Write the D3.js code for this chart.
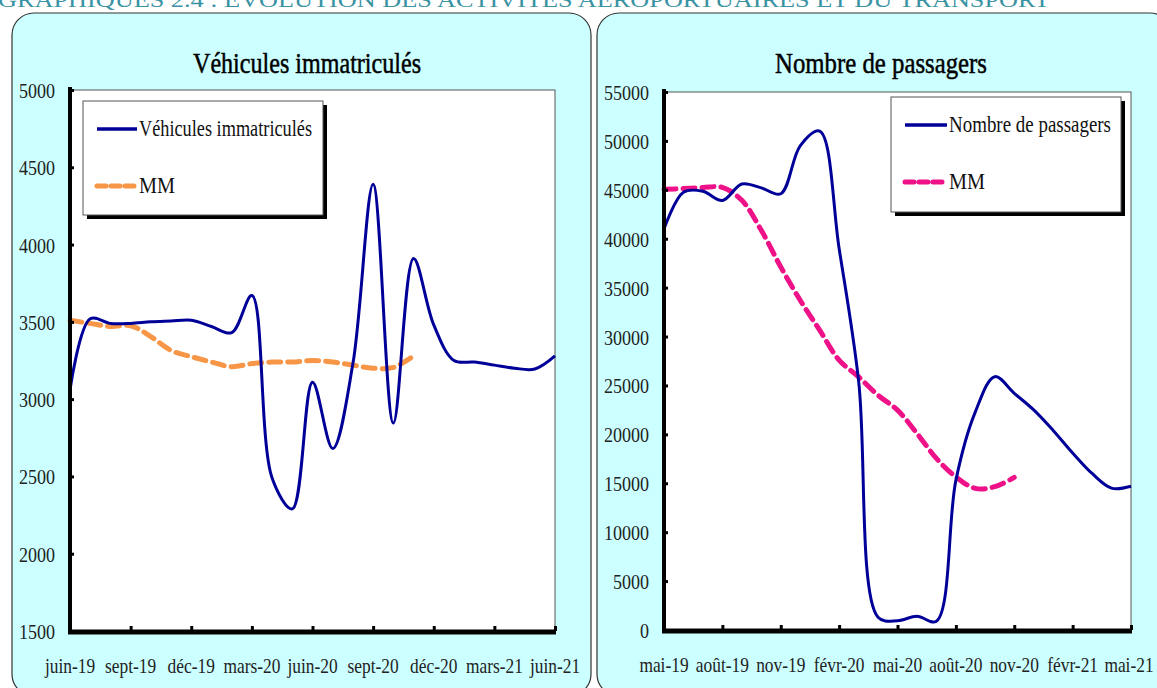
<!DOCTYPE html>
<html><head><meta charset="utf-8">
<script src="https://cdn.jsdelivr.net/npm/d3@7"></script>
<style>
html,body{margin:0;padding:0;background:#fff;overflow:hidden;}
svg{display:block;}
text{font-family:"Liberation Serif","DejaVu Serif",serif;}
</style></head>
<body>
<svg id="chart" width="1157" height="688"></svg>
<script>
// ---------- DATA ----------
const monthsLeft = ["juin-19","juil-19","août-19","sept-19","oct-19","nov-19","déc-19","janv-20","févr-20","mars-20","avr-20","mai-20","juin-20","juil-20","août-20","sept-20","oct-20","nov-20","déc-20","janv-21","févr-21","mars-21","avr-21","mai-21","juin-21"];
const vehicules = [3060,3520,3490,3490,3500,3505,3510,3470,3430,3670,2490,2290,3110,2680,3230,4390,2845,3910,3480,3250,3240,3220,3200,3195,3280];
const vehiculesMM = [3510,3490,3470,3475,3405,3315,3275,3240,3210,3230,3240,3240,3250,3240,3220,3200,3205,3280];
const yTicksLeft = [1500,2000,2500,3000,3500,4000,4500,5000];
const xTicksLeft = ["juin-19","sept-19","déc-19","mars-20","juin-20","sept-20","déc-20","mars-21","juin-21"];

const monthsRight = ["mai-19","juin-19","juil-19","août-19","sept-19","oct-19","nov-19","déc-19","janv-20","févr-20","mars-20","avr-20","mai-20","juin-20","juil-20","août-20","sept-20","oct-20","nov-20","déc-20","janv-21","févr-21","mars-21","avr-21","mai-21"];
const passagers = [41000,44750,44850,43900,45600,45200,44600,49500,51000,39000,25500,1300,950,1400,900,15300,22300,25900,24200,22500,20400,18100,16000,14500,14700];
const passagersMM = [45050,45130,45230,45250,43930,40860,37120,33710,30650,27590,25880,24000,22480,20100,17540,15660,14480,14650,15600];
const yTicksRight = [0,5000,10000,15000,20000,25000,30000,35000,40000,45000,50000,55000];
const xTicksRight = ["mai-19","août-19","nov-19","févr-20","mai-20","août-20","nov-20","févr-21","mai-21"];

const headerText = "GRAPHIQUES 2.4 : ÉVOLUTION DES ACTIVITÉS AÉROPORTUAIRES ET DU TRANSPORT";

// ---------- DRAW ----------
const svg = d3.select("#chart");

svg.append("text").attr("x",-2).attr("y",7)
  .attr("textLength",1052).attr("lengthAdjust","spacingAndGlyphs")
  .style("font-size","21px").style("fill","#3a93a3").style("font-variant","small-caps")
  .text(headerText);

function panel(cfg){
  const g = svg.append("g");
  g.append("rect").attr("x",cfg.px).attr("y",13).attr("width",cfg.pw).attr("height",683)
    .attr("rx",22).attr("ry",22).attr("fill","#ccffff").attr("stroke","#333").attr("stroke-width",1.2);

  g.append("text").attr("x",cfg.titleX).attr("y",73).attr("text-anchor","middle")
    .attr("textLength",cfg.titleW).attr("lengthAdjust","spacingAndGlyphs")
    .style("font-size","30px").style("fill","#000").style("stroke","#000").style("stroke-width",0.5)
    .text(cfg.title);

  const x = d3.scalePoint().domain(cfg.months).range([cfg.x0,cfg.x1]);
  const y = d3.scaleLinear().domain([cfg.yTicks[0],cfg.yTicks[cfg.yTicks.length-1]]).range([cfg.y1,cfg.y0]);

  g.append("rect").attr("x",cfg.x0).attr("y",cfg.y0).attr("width",cfg.x1-cfg.x0).attr("height",cfg.y1-cfg.y0)
    .attr("fill","#fff").attr("stroke","#555").attr("stroke-width",1);

  // legend
  const L = cfg.legend;
  g.append("rect").attr("x",L.x+4).attr("y",L.y+4).attr("width",L.w).attr("height",L.h).attr("fill","#000");
  g.append("rect").attr("x",L.x).attr("y",L.y).attr("width",L.w).attr("height",L.h).attr("fill","#fff").attr("stroke","#555").attr("stroke-width",1);
  g.append("line").attr("x1",L.lx0).attr("x2",L.lx1).attr("y1",L.r1).attr("y2",L.r1).attr("stroke","#000099").attr("stroke-width",3.5);
  g.append("line").attr("x1",L.lx0).attr("x2",L.lx1).attr("y1",L.r2).attr("y2",L.r2).attr("stroke",cfg.mmColor).attr("stroke-width",5)
    .attr("stroke-dasharray","9,5").attr("stroke-linecap","round");
  g.append("text").attr("x",L.lx1+2).attr("y",L.r1+7).attr("textLength",L.tw).attr("lengthAdjust","spacingAndGlyphs")
    .style("font-size","23px").style("fill","#111").text(cfg.title);
  g.append("text").attr("x",L.lx1+2).attr("y",L.r2+7).attr("textLength",36).attr("lengthAdjust","spacingAndGlyphs")
    .style("font-size","23px").style("fill","#111").text("MM");

  // lines
  const line = d3.line().x((d,i)=>x(cfg.months[i])).y(d=>y(d)).curve(d3.curveCatmullRom.alpha(0.5));
  g.append("path").datum(cfg.mm).attr("d",line).attr("fill","none").attr("stroke",cfg.mmColor)
    .attr("stroke-width",5).attr("stroke-dasharray","12,7").attr("stroke-linecap","round");
  g.append("path").datum(cfg.series).attr("d",line).attr("fill","none").attr("stroke","#000099").attr("stroke-width",3);

  // axes
  const yAxis = d3.axisRight(y).tickValues(cfg.yTicks).tickSize(4).tickFormat("");
  const ya = g.append("g").attr("transform",`translate(${cfg.x0},0)`).call(yAxis);
  ya.select(".domain").remove();
  ya.selectAll(".tick line").attr("stroke","#000").attr("stroke-width",3);
  g.selectAll(".ylab").data(cfg.yTicks).enter().append("text")
    .attr("transform",d=>`translate(${cfg.x0-15},${y(d)+8}) scale(0.82,1)`).attr("text-anchor","end")
    .style("font-size","22px").style("fill","#222").text(d=>d);

  const xAxis = d3.axisTop(x).tickValues(cfg.xTicks).tickSize(5).tickFormat("");
  const xa = g.append("g").attr("transform",`translate(0,${cfg.y1})`).call(xAxis);
  xa.select(".domain").remove();
  xa.selectAll(".tick line").attr("stroke","#000").attr("stroke-width",3);
  g.selectAll(".xlab").data(cfg.xTicks).enter().append("text")
    .attr("transform",d=>`translate(${Math.min(x(d),cfg.xMaxLab)},${cfg.y1+42}) scale(0.79,1)`).attr("text-anchor","middle")
    .style("font-size","22px").style("fill","#222").text(d=>d);

  g.append("line").attr("x1",cfg.x0).attr("x2",cfg.x0).attr("y1",cfg.y0-3).attr("y2",cfg.y1+2).attr("stroke","#000").attr("stroke-width",4);
  g.append("line").attr("x1",cfg.x0-2).attr("x2",cfg.x1+1).attr("y1",cfg.y1+1).attr("y2",cfg.y1+1).attr("stroke","#000").attr("stroke-width",5);
}

panel({px:12,pw:579,titleX:307,titleW:228,title:"Véhicules immatriculés",months:monthsLeft,series:vehicules,mm:vehiculesMM,
  yTicks:yTicksLeft,xTicks:xTicksLeft,x0:70,x1:555,y0:90,y1:631,mmColor:"#f79646",xMaxLab:9999,
  legend:{x:83,y:101,w:240,h:114,lx0:97,lx1:137,r1:129,r2:186,tw:173}});

panel({px:597,pw:575,titleX:881,titleW:212,title:"Nombre de passagers",months:monthsRight,series:passagers,mm:passagersMM,
  yTicks:yTicksRight,xTicks:xTicksRight,x0:664,x1:1131,y0:92,y1:630,mmColor:"#ee1188",xMaxLab:1129,
  legend:{x:891,y:97,w:230,h:115,lx0:905,lx1:947,r1:125,r2:182,tw:162}});
</script>
</body></html>
